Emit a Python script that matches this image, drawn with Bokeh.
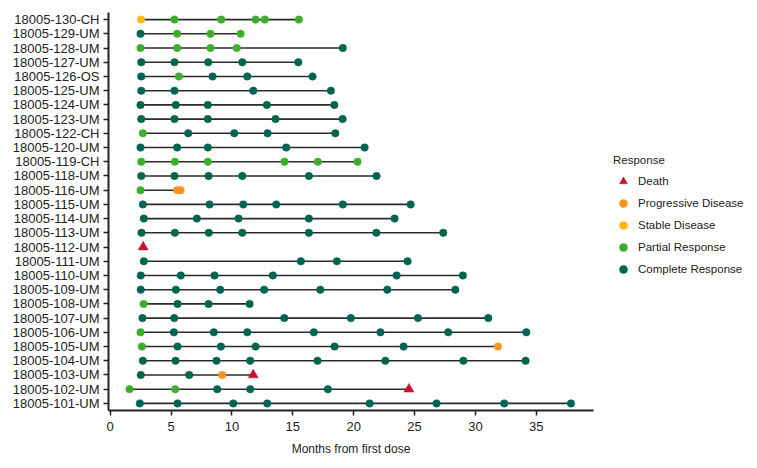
from bokeh.plotting import figure
from bokeh.models import FactorRange, Range1d, FixedTicker, Legend, LegendItem, ColumnDataSource
from bokeh.embed import file_html
from bokeh.resources import INLINE

# ---- data (top row first, as in the chart) ----
patients = ["18005-130-CH", "18005-129-UM", "18005-128-UM", "18005-127-UM", "18005-126-OS",
            "18005-125-UM", "18005-124-UM", "18005-123-UM", "18005-122-CH", "18005-120-UM",
            "18005-119-CH", "18005-118-UM", "18005-116-UM", "18005-115-UM", "18005-114-UM",
            "18005-113-UM", "18005-112-UM", "18005-111-UM", "18005-110-UM", "18005-109-UM",
            "18005-108-UM", "18005-107-UM", "18005-106-UM", "18005-105-UM", "18005-104-UM",
            "18005-103-UM", "18005-102-UM", "18005-101-UM"]

visit_months = [
    [2.53, 5.28, 9.12, 11.94, 12.70, 15.50],
    [2.49, 5.50, 8.24, 10.71],
    [2.49, 5.50, 8.24, 10.40, 19.11],
    [2.55, 5.28, 8.05, 10.85, 15.45],
    [2.55, 5.64, 8.41, 11.26, 16.62],
    [2.55, 5.28, 11.75, 18.13],
    [2.49, 5.39, 8.02, 12.87, 18.41],
    [2.55, 5.28, 8.02, 13.58, 19.09],
    [2.68, 6.41, 10.19, 12.93, 18.49],
    [2.49, 5.50, 8.02, 14.46, 20.90],
    [2.55, 5.31, 8.02, 14.32, 17.06, 20.32],
    [2.55, 5.28, 8.08, 10.85, 16.32, 21.88],
    [2.49, 5.50, 5.78],
    [2.68, 8.16, 10.93, 13.64, 19.11, 24.68],
    [2.76, 7.12, 10.54, 16.32, 23.36],
    [2.57, 5.31, 8.10, 10.85, 16.32, 21.86, 27.36],
    [2.71],
    [2.76, 15.66, 18.62, 24.43],
    [2.51, 5.80, 8.57, 13.36, 23.53, 28.97],
    [2.51, 5.39, 9.04, 12.65, 17.26, 22.76, 28.35],
    [2.74, 5.53, 8.08, 11.45],
    [2.65, 5.26, 14.30, 19.77, 25.28, 31.06],
    [2.49, 5.23, 8.51, 11.26, 16.73, 22.20, 27.77, 34.18],
    [2.60, 5.53, 9.09, 11.94, 18.43, 24.10, 31.85],
    [2.68, 5.37, 8.73, 11.50, 17.03, 22.60, 29.01, 34.12],
    [2.51, 6.49, 9.20, 11.75],
    [1.59, 5.34, 8.79, 11.50, 17.88, 24.54],
    [2.43, 5.53, 10.11, 12.90, 21.31, 26.81, 32.37, 37.85],
]

visit_status = [
    ["SD", "PR", "PR", "PR", "PR", "PR"],
    ["CR", "PR", "PR", "PR"],
    ["PR", "PR", "PR", "PR", "CR"],
    ["CR", "CR", "CR", "CR", "CR"],
    ["CR", "PR", "CR", "CR", "CR"],
    ["CR", "CR", "CR", "CR"],
    ["CR", "CR", "CR", "CR", "CR"],
    ["CR", "CR", "CR", "CR", "CR"],
    ["PR", "CR", "CR", "CR", "CR"],
    ["CR", "CR", "CR", "CR", "CR"],
    ["PR", "PR", "PR", "PR", "PR", "PR"],
    ["CR", "CR", "CR", "CR", "CR", "CR"],
    ["PR", "PD", "PD"],
    ["CR", "CR", "CR", "CR", "CR", "CR"],
    ["CR", "CR", "CR", "CR", "CR"],
    ["CR", "CR", "CR", "CR", "CR", "CR", "CR"],
    ["D"],
    ["CR", "CR", "CR", "CR"],
    ["CR", "CR", "CR", "CR", "CR", "CR"],
    ["CR", "CR", "CR", "CR", "CR", "CR", "CR"],
    ["PR", "CR", "CR", "CR"],
    ["CR", "CR", "CR", "CR", "CR", "CR"],
    ["PR", "CR", "CR", "CR", "CR", "CR", "CR", "CR"],
    ["PR", "CR", "CR", "CR", "CR", "CR", "PD"],
    ["CR", "CR", "CR", "CR", "CR", "CR", "CR", "CR"],
    ["CR", "CR", "PD", "D"],
    ["PR", "PR", "CR", "CR", "CR", "D"],
    ["CR", "CR", "CR", "CR", "CR", "CR", "CR", "CR"],
]

status_codes = ["D", "PD", "SD", "PR", "CR"]
status_labels = ["Death", "Progressive Disease", "Stable Disease", "Partial Response", "Complete Response"]
status_colors = ["#C8102E", "#F7941D", "#FDB913", "#3DAE2B", "#00654F"]
status_markers = ["triangle", "circle", "circle", "circle", "circle"]
x_ticks = [0, 5, 10, 15, 20, 25, 30, 35]

# ---- figure ----
p = figure(y_range=FactorRange(factors=list(reversed(patients)), range_padding=0),
           x_range=Range1d(-0.14, 39.7),
           width=749, height=460,
           frame_width=485, frame_height=398,
           min_border_left=108, min_border_top=12, min_border_right=156, min_border_bottom=50,
           output_backend="svg", toolbar_location=None)
p.outline_line_color = None
p.xgrid.grid_line_color = None
p.ygrid.grid_line_color = None

# lines from first to last assessment
x0s, x1s, ys = [], [], []
for name, months in zip(patients, visit_months):
    if len(months) > 1:
        x0s.append(min(months))
        x1s.append(max(months))
        ys.append(name)
p.segment(x0=x0s, y0=ys, x1=x1s, y1=ys, line_color="#2b2b2b", line_width=1.6)

items = []
for code, label, color, marker in zip(status_codes, status_labels, status_colors, status_markers):
    xs, yy = [], []
    for name, months, stats in zip(patients, visit_months, visit_status):
        for m, s in zip(months, stats):
            if s == code:
                xs.append(m)
                yy.append(name)
    src = ColumnDataSource(dict(x=xs, y=yy))
    size = 10 if marker == "triangle" else 7.5
    r = p.scatter("x", "y", source=src, marker=marker, size=size,
                  fill_color=color, line_color=color, line_width=0.5)
    items.append(LegendItem(label=label, renderers=[r]))

legend = Legend(items=items, title="Response", location=(20, 131))
legend.border_line_color = None
legend.background_fill_color = None
legend.background_fill_alpha = 0
legend.margin = 0
legend.padding = 10
legend.spacing = 2
legend.label_text_font = "Liberation Sans"
legend.label_text_font_size = "11.5px"
legend.label_text_color = "#222222"
legend.title_text_font = "Liberation Sans"
legend.title_text_font_size = "11.5px"
legend.title_text_font_style = "normal"
legend.title_text_color = "#222222"
legend.title_standoff = 5
legend.glyph_width = 20
legend.label_standoff = 5
p.add_layout(legend, "right")

# axes
p.xaxis.ticker = FixedTicker(ticks=x_ticks)
p.xaxis.minor_tick_line_color = None
p.xaxis.axis_label = "Months from first dose"
p.xaxis.axis_label_text_font = "Liberation Sans"
p.xaxis.axis_label_text_font_size = "12px"
p.xaxis.axis_label_text_font_style = "normal"
p.xaxis.axis_label_text_color = "#222222"
p.xaxis.axis_label_standoff = 8
p.xaxis.major_label_text_font = "Liberation Sans"
p.xaxis.major_label_text_font_size = "13px"
p.xaxis.major_label_text_color = "#222222"
p.xaxis.major_label_standoff = 6

p.yaxis.major_label_text_font = "Liberation Sans"
p.yaxis.major_label_text_font_size = "13px"
p.yaxis.major_label_text_color = "#222222"
p.yaxis.major_label_standoff = 4

for ax in (p.xaxis, p.yaxis):
    ax.axis_line_color = "#222222"
    ax.axis_line_width = 2
    ax.major_tick_line_color = "#222222"
    ax.major_tick_line_width = 1.5
    ax.major_tick_out = 5
    ax.major_tick_in = 0

open("out.html", "w").write(file_html(p, INLINE))
